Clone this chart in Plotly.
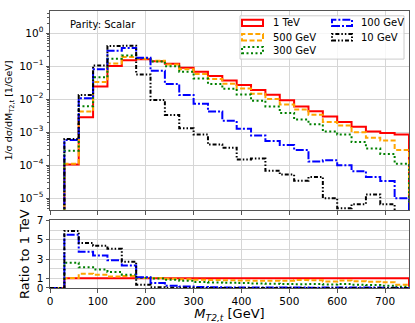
import plotly.graph_objects as go

# bin edges of M_T2,t [GeV]
bin_edges = list(range(0, 751, 30))

labels = ["1 TeV", "500 GeV", "300 GeV", "100 GeV", "10 GeV"]
colors = ["#ff0000", "#ffa500", "#008000", "#0000ff", "#000000"]
dashes = ["solid", "5px,2.5px", "2px,2.5px", "8px,2px,2px,2px", "4px,2px,1.5px,2px,1.5px,2px"]

# normalised distributions, one value per 30 GeV bin
h_1tev = [0, 1.05e-4, 2.85e-3, 2.4e-2, 0.101, 0.152, 0.163, 0.14, 0.118, 0.09, 0.068, 0.05,
          0.037, 0.027, 0.019, 0.0135, 9.3e-3, 6.0e-3, 4.3e-3, 3.0e-3, 2.05e-3, 1.45e-3,
          1.05e-3, 9.5e-4, 8.5e-4]
h_500 = [0, 1.1e-4, 4.2e-3, 3.3e-2, 0.12, 0.19, 0.168, 0.145, 0.112, 0.081, 0.058, 0.041,
         0.0295, 0.021, 0.0145, 0.0101, 6.9e-3, 4.9e-3, 3.4e-3, 2.05e-3, 1.6e-3, 1.0e-3,
         6.8e-4, 5.6e-4, 2.9e-4]
h_300 = [0, 2.75e-4, 6.1e-3, 4.6e-2, 0.168, 0.21, 0.175, 0.138, 0.1, 0.068, 0.042, 0.029,
         0.0205, 0.0138, 9.0e-3, 6.0e-3, 3.8e-3, 2.4e-3, 1.73e-3, 1.05e-3, 8.5e-4, 5.0e-4,
         3.2e-4, 2.2e-4, 1.1e-4]
h_100 = [0, 5.8e-4, 1.07e-2, 8.1e-2, 0.29, 0.355, 0.18, 0.072, 0.029, 0.0134, 7.3e-3, 4.2e-3,
         2.2e-3, 1.27e-3, 7.9e-4, 5.4e-4, 4.1e-4, 2.9e-4, 1.3e-4, 1.4e-4, 1.0e-4, 6.6e-5,
         4.4e-5, 3.3e-5, 1.0e-5]
h_10 = [0, 6.2e-4, 1.33e-2, 0.105, 0.41, 0.415, 0.056, 9.5e-3, 3.3e-3, 1.32e-3, 8.5e-4, 4.2e-4,
        3.4e-4, 1.5e-4, 1.6e-4, 6.8e-5, 5.2e-5, 3.4e-5, 4.4e-5, 1.0e-5, 5e-6, 6.6e-6,
        1.3e-5, 6.6e-6, 0]

series = [h_1tev, h_500, h_300, h_100, h_10]

y_ticks = [1, 1e-1, 1e-2, 1e-3, 1e-4, 1e-5]
y_ticktext = ["10<sup>0</sup>", "10<sup>−1</sup>", "10<sup>−2</sup>", "10<sup>−3</sup>",
              "10<sup>−4</sup>", "10<sup>−5</sup>"]
minor_ticks = [k * 10.0 ** n for n in range(-6, 1) for k in range(2, 10)]


def step(vals, floor):
    v = [x if x > 0 else floor for x in vals]
    return bin_edges + [bin_edges[-1]], v + [v[-1], floor]


fig = go.Figure()
for lab, col, dsh, vals in zip(labels, colors, dashes, series):
    xs, ys = step(vals, 1e-9)
    fig.add_trace(go.Scatter(x=xs, y=ys, mode="lines", line_shape="hv", name=lab,
                             line=dict(color=col, width=2, dash=dsh),
                             xaxis="x", yaxis="y", showlegend=False))
    ratio = [v / r if r > 0 else 0 for v, r in zip(vals, h_1tev)]
    xs, ys = step(ratio, 0)
    fig.add_trace(go.Scatter(x=xs, y=ys, mode="lines", line_shape="hv", name=lab,
                             line=dict(color=col, width=2, dash=dsh),
                             xaxis="x2", yaxis="y2", showlegend=False))

L, R, T, B = 50, 6, 5, 30
W, H = 415, 323
pw, ph = W - L - R, H - T - B


def px(x):
    return (x - L) / pw


def py(y):
    return (H - B - y) / ph


# legend drawn like the matplotlib one: two columns of outlined boxes
shapes = [dict(type="rect", xref="paper", yref="paper", x0=px(240), x1=px(404),
               y0=py(55), y1=py(10), line=dict(color="#cccccc", width=1),
               fillcolor="rgba(255,255,255,0.8)")]
annotations = [dict(text="Parity: Scalar", xref="paper", yref="paper", x=px(68), y=py(19),
                    xanchor="left", yanchor="middle", showarrow=False,
                    font=dict(size=10, color="#000"))]
rows = [17.3, 32.3, 45.7]
for i, (lab, col, dsh) in enumerate(zip(labels, colors, dashes)):
    c, r = (0, i) if i < 3 else (1, i - 3)
    hx0, hx1, tx = [(242, 263, 271), (332, 352, 359)][c]
    yc = rows[r]
    shapes.append(dict(type="rect", xref="paper", yref="paper", x0=px(hx0), x1=px(hx1),
                       y0=py(yc + 3.3), y1=py(yc - 3.3),
                       line=dict(color=col, width=2, dash=dsh)))
    annotations.append(dict(text=lab, xref="paper", yref="paper", x=px(tx), y=py(yc),
                            xanchor="left", yanchor="middle", showarrow=False,
                            font=dict(size=10, color="#000")))

axis_style = dict(showline=True, mirror=True, linecolor="#555555", linewidth=1,
                  ticks="outside", ticklen=3.5, tickcolor="#555555",
                  gridcolor="#d6d6d6", gridwidth=1, zeroline=False)

fig.update_layout(
    width=W, height=H,
    margin=dict(l=L, r=R, t=T, b=B),
    plot_bgcolor="white", paper_bgcolor="white",
    font=dict(family="DejaVu Sans", size=10.5, color="#000"),
    xaxis=dict(domain=[0, 1], anchor="y", range=[0, 750], dtick=100,
               showticklabels=False, **axis_style),
    yaxis=dict(domain=[py(212), 1], anchor="x", type="log", range=[-5.36, 0.67],
               tickmode="array", tickvals=y_ticks, ticktext=y_ticktext,
               minor=dict(tickmode="array", tickvals=minor_ticks, ticks="outside",
                          ticklen=2, tickcolor="#555555", showgrid=False),
               title=dict(text="1/σ dσ/dM<sub>T2,t</sub> [1/GeV]", font=dict(size=9.5),
                          standoff=4),
               **axis_style),
    xaxis2=dict(domain=[0, 1], anchor="y2", matches="x", range=[0, 750], dtick=100,
                title=dict(text="<i>M</i><sub><i>T2,t</i></sub> [GeV]", standoff=2),
                **axis_style),
    yaxis2=dict(domain=[0, py(222.7)], anchor="x2", range=[0, 7],
                tickmode="array", tickvals=[0, 1, 3, 5, 7],
                minor=dict(dtick=1, showgrid=True, gridcolor="#d6d6d6"),
                title=dict(text="Ratio to 1 TeV", standoff=4),
                **axis_style),
    shapes=shapes,
    annotations=annotations,
)

fig.write_html("out.html", config={"displayModeBar": False},
               post_script="document.body.style.margin='0';")
